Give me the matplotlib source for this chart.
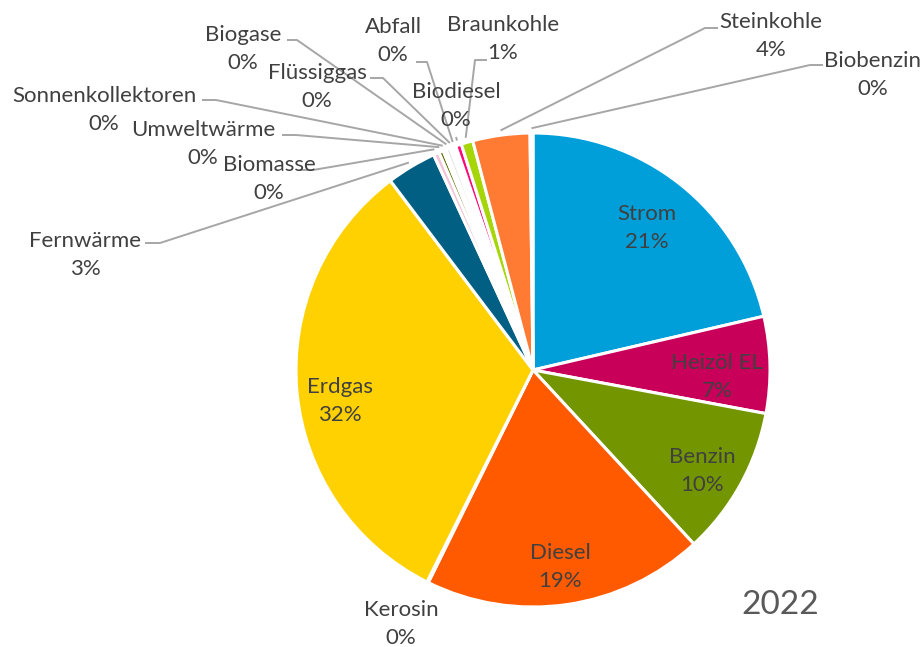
import numpy as np
import matplotlib.pyplot as plt

W, H = 923, 647

labels = ["Strom", "Heizöl EL", "Benzin", "Diesel", "Kerosin", "Erdgas", "Fernwärme",
          "Biomasse", "Umweltwärme", "Sonnenkollektoren", "Biogase", "Flüssiggas",
          "Abfall", "Biodiesel", "Braunkohle", "Steinkohle", "Biobenzin"]
shares = [21.4, 6.6, 10.2, 19.2, 0.1, 32.4, 3.4,
          0.4, 0.3, 0.2, 0.3, 0.2,
          0.2, 0.4, 0.8, 3.9, 0.2]
colors = ["#009FD9", "#C8005A", "#739600", "#FF5A00", "#8C8C8C", "#FFD100", "#005F82",
          "#F2C4D6", "#5A6E00", "#DADADA", "#E6E6E6", "#C4E8F2",
          "#F5F5F5", "#FF0A78", "#A6D608", "#FF7A33", "#D0D0D0"]
year = "2022"

# layout (pixel coords, y from top)
CX, CY, R = 533, 370, 237
TXT = "#404040"
LEAD = "#A6A6A6"
inside = {"Strom": (647, 228), "Heizöl EL": (717, 377), "Benzin": (702, 471),
          "Diesel": (560, 567), "Erdgas": (340, 401)}
outside = {"Kerosin": (401, 624), "Fernwärme": (85, 255), "Biomasse": (269, 179),
           "Umweltwärme": (203, 144), "Sonnenkollektoren": (104, 110),
           "Biogase": (243, 49), "Flüssiggas": (317, 87), "Abfall": (393, 41),
           "Biodiesel": (456, 106), "Braunkohle": (503, 39),
           "Steinkohle": (771, 36), "Biobenzin": (873, 75)}
stubs = {"Fernwärme": [(145, 243), (160, 243)], "Biomasse": [(300, 170), (313, 170)],
         "Umweltwärme": [(282, 135), (296, 135)], "Sonnenkollektoren": [(202, 100), (216, 100)],
         "Biogase": [(287, 40), (297, 40)], "Flüssiggas": [(370, 78), (383, 78)],
         "Abfall": [(416, 62), (427, 62)], "Braunkohle": [(487, 60), (475, 60)],
         "Biodiesel": [(456, 137)], "Steinkohle": [(718, 28), (705, 28)],
         "Biobenzin": [(823, 65), (810, 65)]}

plt.rcParams["font.family"] = ["Lato", "DejaVu Sans"]

fig = plt.figure(figsize=(W / 100, H / 100), dpi=100)
ax = fig.add_axes([0, 0, 1, 1])

total = sum(shares)
ax.pie(shares, colors=colors, startangle=90, counterclock=False,
       center=(CX, H - CY), radius=R,
       wedgeprops=dict(edgecolor="white", linewidth=2.2))

# mid angle (clockwise from top) of each slice
cum = np.cumsum([0] + shares)
mids = {lab: (cum[i] + shares[i] / 2) / total * 2 * np.pi for i, lab in enumerate(labels)}
pcts = {lab: f"{round(v / total * 100):.0f}%" for lab, v in zip(labels, shares)}

# name on top line, percentage below
for lab, (x, y) in {**inside, **outside}.items():
    ax.text(x, H - (y - 14), lab, ha="center", va="center", fontsize=16, color=TXT)
    ax.text(x, H - (y + 14), pcts[lab], ha="center", va="center", fontsize=16, color=TXT)

for lab, pts in stubs.items():
    a = mids[lab]
    ex = CX + 1.02 * R * np.sin(a)
    ey = CY - 1.02 * R * np.cos(a)
    xs = [p[0] for p in pts] + [ex]
    ys = [H - p[1] for p in pts] + [H - ey]
    ax.plot(xs, ys, color=LEAD, lw=1.4, solid_capstyle="butt")

ax.text(780, H - 605, year, ha="center", va="center", fontsize=24, color="#595959")

ax.set_xlim(0, W)
ax.set_ylim(0, H)
ax.set_aspect("equal")
ax.axis("off")

fig.savefig("out.png", dpi=100, facecolor="white")
